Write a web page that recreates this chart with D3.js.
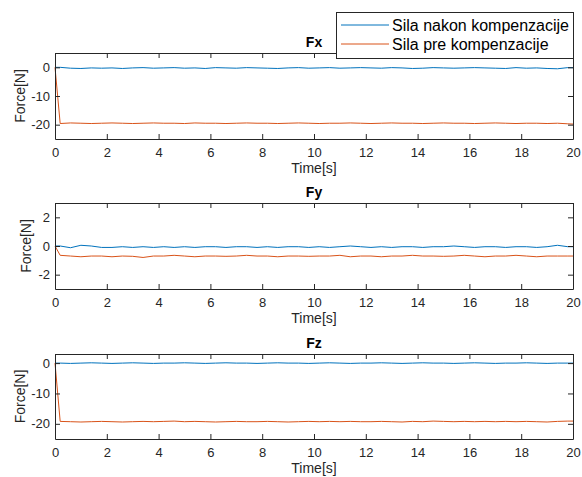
<!DOCTYPE html>
<html>
<head>
<meta charset="utf-8">
<script src="https://cdn.jsdelivr.net/npm/d3@7"></script>
<style>
  body { margin: 0; background: #fff; }
  svg { display: block; font-family: "Liberation Sans", Arial, sans-serif; }
</style>
</head>
<body>
<svg id="chart" width="582" height="477"></svg>
<script>
// time samples [s]
const time = [
  0, 0.2, 0.6, 1.0, 1.4, 1.8, 2.2, 2.6, 3.0, 3.4,
  3.8, 4.2, 4.6, 5.0, 5.4, 5.8, 6.2, 6.6, 7.0, 7.4,
  7.8, 8.2, 8.6, 9.0, 9.4, 9.8, 10.2, 10.6, 11.0, 11.4,
  11.8, 12.2, 12.6, 13.0, 13.4, 13.8, 14.2, 14.6, 15.0, 15.4,
  15.8, 16.2, 16.6, 17.0, 17.4, 17.8, 18.2, 18.6, 19.0, 19.4,
  19.8, 20
];

// Fx
const fxAfter = [
  0, 0.0, -0.3, -0.4, -0.2, -0.3, -0.2, -0.4, -0.2, -0.1,
  -0.3, -0.2, -0.1, -0.3, -0.2, -0.4, -0.1, -0.2, -0.3, -0.1,
  -0.2, -0.3, -0.4, -0.2, -0.1, -0.3, -0.2, -0.1, -0.3, -0.2,
  -0.1, -0.2, -0.3, -0.1, -0.2, -0.4, -0.3, -0.1, -0.2, -0.3,
  -0.2, -0.1, -0.2, -0.3, -0.4, -0.1, -0.3, -0.2, -0.4, -0.5,
  -0.1, -0.1
];
const fxBefore = [
  0, -19.6, -19.4, -19.5, -19.6, -19.5, -19.4, -19.5, -19.6, -19.5,
  -19.4, -19.5, -19.5, -19.6, -19.4, -19.5, -19.5, -19.6, -19.5, -19.4,
  -19.5, -19.5, -19.6, -19.5, -19.4, -19.5, -19.6, -19.5, -19.5, -19.4,
  -19.5, -19.6, -19.5, -19.4, -19.5, -19.5, -19.6, -19.5, -19.4, -19.5,
  -19.5, -19.6, -19.5, -19.4, -19.5, -19.6, -19.5, -19.5, -19.6, -19.5,
  -19.7, -19.8
];

// Fy
const fyAfter = [
  0, 0.0, -0.12, 0.05, 0.0, -0.1, -0.1, -0.05, -0.1, -0.05,
  -0.1, -0.05, -0.1, -0.05, -0.1, -0.05, -0.05, -0.1, -0.05, -0.05,
  -0.1, -0.05, -0.1, -0.05, -0.05, -0.1, -0.05, -0.1, -0.05, 0.0,
  -0.05, -0.1, -0.05, -0.1, -0.05, -0.05, -0.1, -0.05, -0.05, 0.0,
  -0.05, -0.1, -0.05, -0.05, -0.1, -0.05, -0.05, -0.1, -0.05, 0.05,
  -0.05, -0.05
];
const fyBefore = [
  0, -0.65, -0.7, -0.75, -0.7, -0.7, -0.75, -0.7, -0.72, -0.8,
  -0.7, -0.7, -0.65, -0.7, -0.75, -0.7, -0.7, -0.72, -0.7, -0.65,
  -0.7, -0.7, -0.75, -0.7, -0.7, -0.72, -0.7, -0.7, -0.65, -0.75,
  -0.7, -0.7, -0.75, -0.7, -0.7, -0.65, -0.7, -0.7, -0.72, -0.7,
  -0.65, -0.7, -0.75, -0.7, -0.7, -0.65, -0.7, -0.75, -0.7, -0.7,
  -0.7, -0.7
];

// Fz
const fzAfter = [
  0, 0.0, -0.1, 0.0, 0.1, 0.0, -0.1, 0.0, 0.1, 0.0,
  -0.1, 0.0, 0.0, 0.1, 0.0, -0.1, 0.0, 0.1, 0.0, 0.0,
  -0.1, 0.0, 0.1, 0.0, 0.0, -0.1, 0.0, 0.1, 0.0, -0.1,
  0.0, 0.0, 0.1, 0.0, -0.1, 0.0, 0.1, 0.0, 0.0, -0.1,
  0.0, 0.1, 0.0, -0.1, 0.0, 0.0, 0.1, 0.0, -0.1, 0.0,
  0.0, 0.0
];
const fzBefore = [
  0, -19.2, -19.3, -19.4, -19.3, -19.2, -19.3, -19.4, -19.3, -19.2,
  -19.3, -19.2, -19.1, -19.3, -19.2, -19.3, -19.4, -19.3, -19.2, -19.3,
  -19.3, -19.2, -19.3, -19.4, -19.3, -19.2, -19.3, -19.2, -19.3, -19.2,
  -19.3, -19.3, -19.2, -19.3, -19.4, -19.2, -19.3, -19.1, -19.2, -19.3,
  -19.2, -19.3, -19.2, -19.3, -19.2, -19.3, -19.2, -19.3, -19.4, -19.2,
  -19.1, -19.1
];

const xTicks = [0, 2, 4, 6, 8, 10, 12, 14, 16, 18, 20];
const seriesNames = ["Sila nakon kompenzacije", "Sila pre kompenzacije"];
const colors = ["#0072BD", "#D95319"];

const panels = [
  { title: "Fx", after: fxAfter, before: fxBefore, yDomain: [-25, 5], yTicks: [-20, -10, 0], top: 53, bottom: 139, labelX: 25 },
  { title: "Fy", after: fyAfter, before: fyBefore, yDomain: [-3, 3], yTicks: [-2, 0, 2], top: 203, bottom: 289, labelX: 31 },
  { title: "Fz", after: fzAfter, before: fzBefore, yDomain: [-25, 3], yTicks: [-20, -10, 0], top: 354, bottom: 439, labelX: 25 }
];

const svg = d3.select("#chart");
const axColor = "#262626";
const left = 55, right = 573;
const fmt = d => String(d); // plain hyphen minus like MATLAB

const x = d3.scaleLinear().domain([0, 20]).range([left, right]);

panels.forEach(p => {
  const y = d3.scaleLinear().domain(p.yDomain).range([p.bottom, p.top]);
  const g = svg.append("g");

  // data lines
  [p.after, p.before].forEach((vals, i) => {
    const line = d3.line().x((d, j) => x(time[j])).y(d => y(d));
    g.append("path")
      .datum(vals)
      .attr("d", line)
      .attr("fill", "none")
      .attr("stroke", colors[i])
      .attr("stroke-width", 1);
  });

  // axes, ticks inward on all four sides
  const tickLen = 5;
  const axes = [
    g.append("g").attr("transform", `translate(0,${p.bottom})`)
      .call(d3.axisBottom(x).tickValues(xTicks).tickFormat(fmt).tickSizeInner(-tickLen).tickSizeOuter(0).tickPadding(9)),
    g.append("g").attr("transform", `translate(0,${p.top})`)
      .call(d3.axisTop(x).tickValues(xTicks).tickSizeInner(-tickLen).tickSizeOuter(0).tickFormat("")),
    g.append("g").attr("transform", `translate(${left},0)`)
      .call(d3.axisLeft(y).tickValues(p.yTicks).tickFormat(fmt).tickSizeInner(-tickLen).tickSizeOuter(0).tickPadding(5)),
    g.append("g").attr("transform", `translate(${right},0)`)
      .call(d3.axisRight(y).tickValues(p.yTicks).tickSizeInner(-tickLen).tickSizeOuter(0).tickFormat(""))
  ];
  axes.forEach(a => a.attr("font-size", 13).attr("font-family", "'Liberation Sans', Arial, sans-serif"));

  g.selectAll(".domain").attr("stroke", axColor);
  g.selectAll(".tick line").attr("stroke", axColor);
  g.selectAll(".tick text").attr("fill", axColor);

  // title
  svg.append("text")
    .attr("x", (left + right) / 2).attr("y", p.top - 6)
    .attr("text-anchor", "middle")
    .style("font-size", "14px").style("font-weight", "bold")
    .attr("fill", "#000")
    .text(p.title);

  // axis labels
  svg.append("text")
    .attr("x", (left + right) / 2).attr("y", p.bottom + 34)
    .attr("text-anchor", "middle")
    .style("font-size", "14px")
    .attr("fill", axColor)
    .text("Time[s]");

  svg.append("text")
    .attr("transform", `translate(${p.labelX},${(p.top + p.bottom) / 2}) rotate(-90)`)
    .attr("text-anchor", "middle")
    .style("font-size", "14px")
    .attr("fill", axColor)
    .text("Force[N]");
});

// legend
const legend = svg.append("g");
legend.append("rect")
  .attr("x", 336.5).attr("y", 12.5).attr("width", 237).attr("height", 46)
  .attr("fill", "#fff").attr("stroke", axColor).attr("stroke-width", 1);
const rows = [25, 44];
seriesNames.forEach((name, i) => {
  legend.append("line")
    .attr("x1", 341).attr("x2", 389).attr("y1", rows[i]).attr("y2", rows[i])
    .attr("stroke", colors[i]).attr("stroke-width", 1);
  legend.append("text")
    .attr("x", 392).attr("y", rows[i]).attr("dy", "0.35em")
    .style("font-size", "16px")
    .attr("fill", "#000")
    .text(name);
});
</script>
</body>
</html>
